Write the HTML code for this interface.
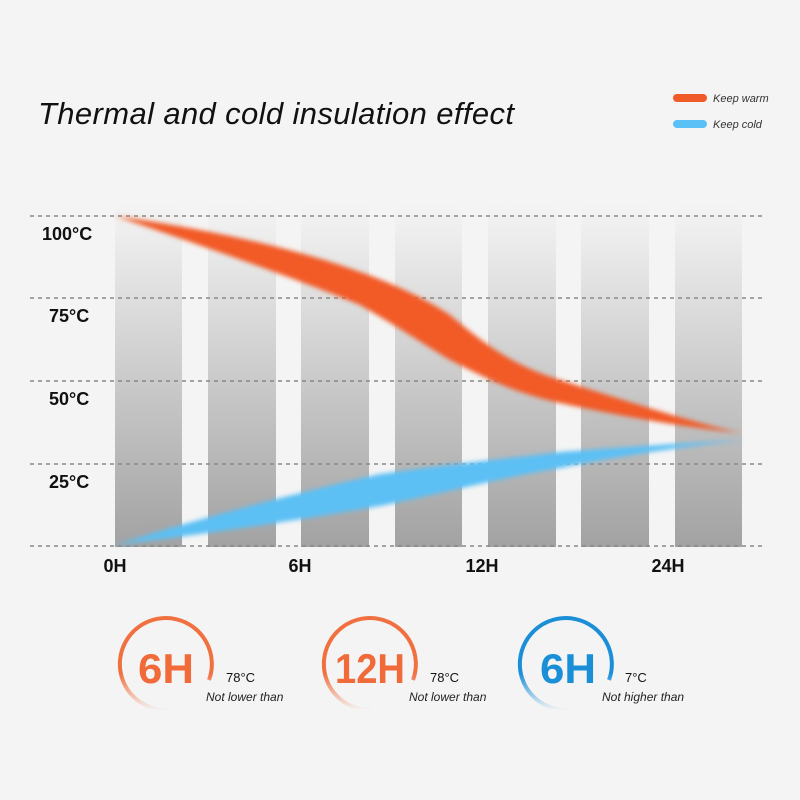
<!DOCTYPE html>
<html><head><meta charset="utf-8"><style>
html,body{margin:0;padding:0;background:#f4f4f4;}
svg{display:block}
</style></head><body>
<svg width="800" height="800" viewBox="0 0 800 800" xmlns="http://www.w3.org/2000/svg" font-family="Liberation Sans, sans-serif">
<defs>
<linearGradient id="bar" x1="0" y1="0" x2="0" y2="1">
<stop offset="0" stop-color="#f4f4f4"/><stop offset="0.12" stop-color="#ebebeb"/><stop offset="1" stop-color="#a2a2a2"/>
</linearGradient>
<filter id="bl" x="-10%" y="-30%" width="120%" height="160%"><feGaussianBlur stdDeviation="2.5"/></filter>
<linearGradient id="fadeO" x1="0" y1="0" x2="0" y2="1"><stop offset="0.6" stop-color="#f07040"/><stop offset="1" stop-color="#f07040" stop-opacity="0"/></linearGradient>
<linearGradient id="fadeB" x1="0" y1="0" x2="0" y2="1"><stop offset="0.6" stop-color="#1a8fd8"/><stop offset="1" stop-color="#1a8fd8" stop-opacity="0"/></linearGradient>
</defs>
<rect width="800" height="800" fill="#f4f4f4"/>
<text x="38" y="124" font-size="31" font-style="italic" fill="#111" textLength="476">Thermal and cold insulation effect</text>
<rect x="673" y="94" width="34" height="8" rx="4" fill="#f05a28"/>
<text x="713" y="102" font-size="11" font-style="italic" fill="#333">Keep warm</text>
<rect x="673" y="120" width="34" height="8" rx="4" fill="#5bc0f5"/>
<text x="713" y="128" font-size="11" font-style="italic" fill="#333">Keep cold</text>
<g fill="url(#bar)">
<rect x="115" y="203" width="67" height="344"/><rect x="208" y="203" width="68" height="344"/>
<rect x="301" y="203" width="68" height="344"/><rect x="395" y="203" width="67" height="344"/>
<rect x="488" y="203" width="68" height="344"/><rect x="581" y="203" width="68" height="344"/>
<rect x="675" y="203" width="67" height="344"/>
</g>
<g stroke="#888" stroke-width="1.5" stroke-dasharray="4,4">
<line x1="30" y1="216" x2="765" y2="216"/><line x1="30" y1="298" x2="765" y2="298"/>
<line x1="30" y1="381" x2="765" y2="381"/><line x1="30" y1="464" x2="765" y2="464"/>
<line x1="30" y1="546" x2="765" y2="546"/>
</g>
<g font-size="18" font-weight="bold" fill="#111">
<text x="42" y="240">100°C</text><text x="49" y="322">75°C</text>
<text x="49" y="405">50°C</text><text x="49" y="488">25°C</text>
<g text-anchor="middle"><text x="115" y="572">0H</text><text x="300" y="572">6H</text><text x="482" y="572">12H</text><text x="668" y="572">24H</text></g>
</g>
<path filter="url(#bl)" fill="#f25a28" d="M115,216 C200,228 280,245 340,265 C380,278 420,295 450,315 C480,340 510,365 560,380 C630,402 700,425 742,433 C690,428 630,418 560,403 C510,392 480,375 450,360 C420,342 400,328 360,305 C300,280 200,245 115,216 Z"/>
<path filter="url(#bl)" fill="#5bc0f5" d="M115,545 C200,518 300,492 380,474 C450,464 520,457 560,452 C640,446 700,442 745,440 C700,445 640,452 560,468 C500,478 440,494 380,506 C300,520 200,535 115,545 Z"/>
<g fill="none" stroke-width="4">
<path d="M168,710 A46,46 0 1 1 209,680" stroke="url(#fadeO)"/>
<path d="M372,710 A46,46 0 1 1 413,680" stroke="url(#fadeO)"/>
<path d="M568,710 A46,46 0 1 1 609,680" stroke="url(#fadeB)"/>
</g>
<g font-size="42" font-weight="bold" text-anchor="middle">
<text x="166" y="683" fill="#f06a3a" textLength="56" lengthAdjust="spacingAndGlyphs">6H</text>
<text x="370" y="683" fill="#f06a3a" textLength="70" lengthAdjust="spacingAndGlyphs">12H</text>
<text x="568" y="683" fill="#1a8fd8" textLength="56" lengthAdjust="spacingAndGlyphs">6H</text>
</g>
<g font-size="13" fill="#111">
<text x="226" y="682">78°C</text><text x="430" y="682">78°C</text><text x="625" y="682">7°C</text>
</g>
<g font-size="12" font-style="italic" fill="#222">
<text x="206" y="701">Not lower than</text><text x="409" y="701">Not lower than</text><text x="602" y="701">Not higher than</text>
</g>
</svg>
</body></html>
